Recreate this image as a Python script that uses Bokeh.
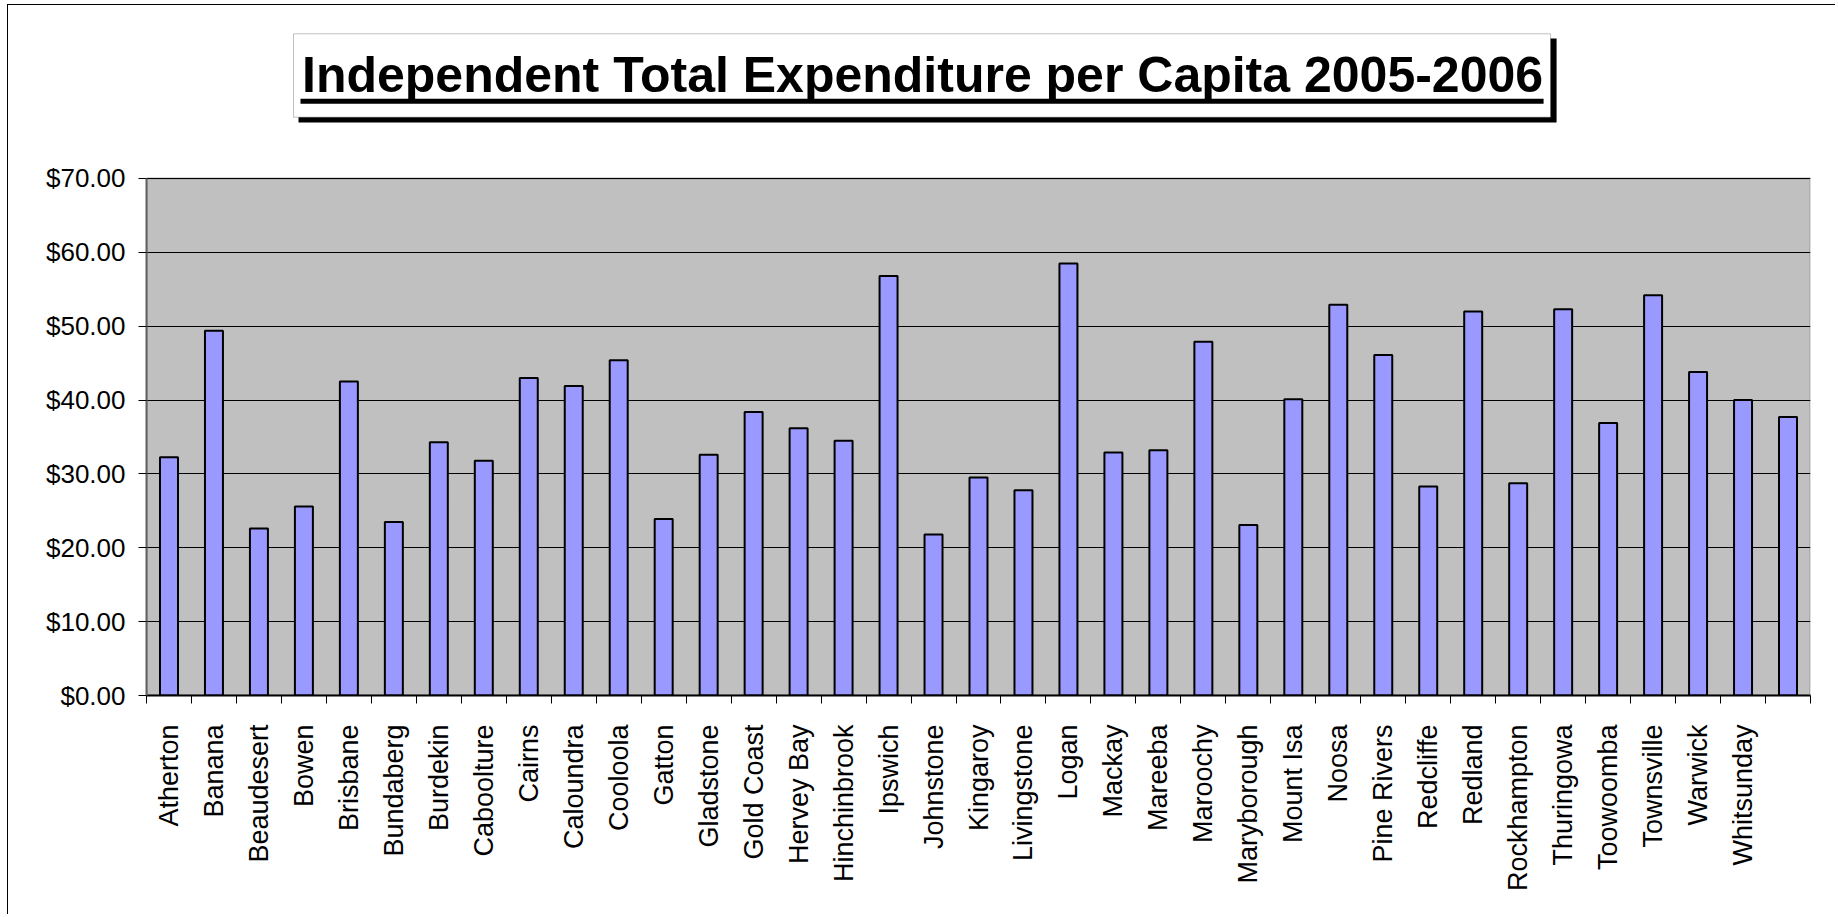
import numpy as np
from bokeh.plotting import figure
from bokeh.models import (Range1d, FixedTicker, NumeralTickFormatter, BoxAnnotation,
                          Label, ColumnDataSource)
from bokeh.embed import file_html
from bokeh.resources import INLINE

title_text = "Independent Total Expenditure per Capita 2005-2006"

categories = ["Atherton", "Banana", "Beaudesert", "Bowen", "Brisbane", "Bundaberg",
              "Burdekin", "Caboolture", "Cairns", "Caloundra", "Cooloola", "Gatton",
              "Gladstone", "Gold Coast", "Hervey Bay", "Hinchinbrook", "Ipswich",
              "Johnstone", "Kingaroy", "Livingstone", "Logan", "Mackay", "Mareeba",
              "Maroochy", "Maryborough", "Mount Isa", "Noosa", "Pine Rivers",
              "Redcliffe", "Redland", "Rockhampton", "Thuringowa", "Toowoomba",
              "Townsville", "Warwick", "Whitsunday", ""]

values = [32.25, 49.4, 22.6, 25.6, 42.5, 23.5,
          34.3, 31.8, 43.0, 41.9, 45.4, 23.9,
          32.6, 38.4, 36.2, 34.5, 56.8,
          21.8, 29.5, 27.8, 58.5, 32.9, 33.2,
          47.9, 23.1, 40.1, 52.9, 46.1,
          28.3, 52.0, 28.75, 52.3, 36.9,
          54.2, 43.8, 40.0, 37.7]

y_ticks = [0, 10, 20, 30, 40, 50, 60, 70]
y_max_axis = 70

n = len(categories)
centers = (np.arange(n) + 0.5).tolist()
src = ColumnDataSource(dict(x=centers, top=values, name=categories))

# The frame spans the title area too, so title decorations are not clipped.
p = figure(width=1828, height=910, x_range=Range1d(0, n), y_range=Range1d(0, 93.42),
           output_backend="svg", toolbar_location=None, title=None,
           min_border_left=138, min_border_top=0, min_border_right=26,
           min_border_bottom=220)
p.styles = {"margin-left": "7px", "margin-top": "4px",
            "border-left": "1px solid black", "border-top": "1px solid black"}
p.background_fill_color = "white"
p.border_fill_color = "white"
p.outline_line_color = None

# grey plot area
plot_area = BoxAnnotation(bottom=0, top=y_max_axis, left=0, right=n,
                          fill_color="#C0C0C0", fill_alpha=1,
                          line_color="#808080", line_width=3, level="image")
p.add_layout(plot_area)

p.xgrid.grid_line_color = None
p.ygrid.ticker = FixedTicker(ticks=y_ticks)
p.ygrid.grid_line_color = "black"
p.ygrid.grid_line_width = 1

p.vbar(x="x", top="top", width=0.4, bottom=0, source=src,
       fill_color="#9999FF", line_color="black", line_width=2)

# x axis: labels centred on bars, ticks at category boundaries
lab_ticks = [c for c, nm in zip(centers, categories) if nm]
xa = p.xaxis[0]
xa.ticker = FixedTicker(ticks=lab_ticks, minor_ticks=list(range(n + 1)))
xa.major_label_overrides = {c: nm for c, nm in zip(centers, categories) if nm}
xa.major_label_orientation = np.pi / 2
xa.major_tick_line_color = None
xa.major_tick_out = 0
xa.major_tick_in = 0
xa.minor_tick_line_color = "black"
xa.minor_tick_line_width = 1
xa.minor_tick_out = 8
xa.minor_tick_in = 0
xa.major_label_standoff = 21
xa.major_label_text_font = "Liberation Sans"
xa.major_label_text_font_size = "27px"
xa.major_label_text_color = "black"
xa.axis_line_color = "black"
xa.axis_line_width = 2

ya = p.yaxis[0]
ya.bounds = (0, y_max_axis)
ya.ticker = FixedTicker(ticks=y_ticks)
ya.formatter = NumeralTickFormatter(format="$0.00")
ya.major_tick_out = 8
ya.major_tick_in = 0
ya.major_tick_line_color = "black"
ya.minor_tick_line_color = None
ya.major_label_standoff = 13
ya.major_label_text_font = "Liberation Sans"
ya.major_label_text_font_size = "26px"
ya.major_label_text_color = "black"
ya.axis_line_color = "#606060"
ya.axis_line_width = 2

# title box with shadow and underline
shadow = BoxAnnotation(left=3.38, right=31.354, top=88.96, bottom=77.58,
                       fill_color="black", fill_alpha=1, line_color=None)
box = BoxAnnotation(left=3.269, right=31.22, top=89.59, bottom=78.30,
                    fill_color="white", fill_alpha=1, line_color="#333333", line_width=1)
underline = BoxAnnotation(left=3.424, right=31.065, top=80.79, bottom=80.12,
                          fill_color="black", fill_alpha=1, line_color=None)
for b in (shadow, box, underline):
    p.add_layout(b)

title = Label(x=17.256, y=83.95, text=title_text, text_align="center",
              text_baseline="middle", text_font="Liberation Sans",
              text_font_size="50px", text_font_style="bold", text_color="black")
p.add_layout(title)

open("out.html", "w").write(file_html(p, INLINE))
